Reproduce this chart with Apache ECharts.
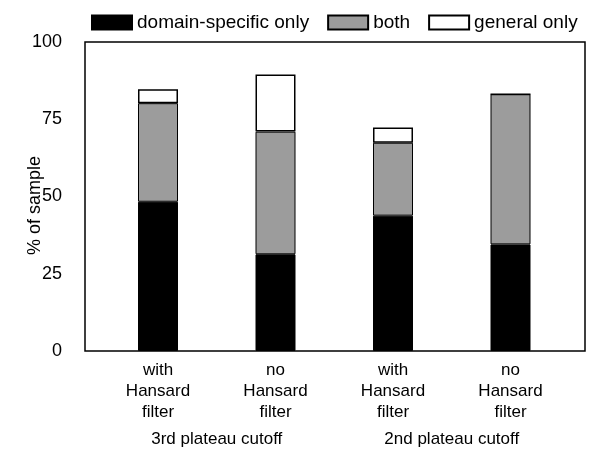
<!DOCTYPE html>
<html>
<head>
<meta charset="utf-8">
<script src="https://cdn.jsdelivr.net/npm/echarts@6/dist/echarts.min.js"></script>
<style>html,body{margin:0;padding:0;background:#fff;}#c{width:593px;height:451px;}</style>
</head>
<body>
<div id="c"></div>
<script>
var categories = ['with\nHansard\nfilter', 'no\nHansard\nfilter', 'with\nHansard\nfilter', 'no\nHansard\nfilter'];
var groups = ['3rd plateau cutoff', '2nd plateau cutoff'];
var domainOnly = [48.3, 31.3, 43.8, 34.5];
var both = [31.9, 39.7, 23.6, 48.6];
var generalOnly = [4.5, 18.5, 4.9, 0];
var yTicks = [0, 25, 50, 75, 100];

var FONT = 'Liberation Sans';
var chart = echarts.init(document.getElementById('c'));
var common = { type: 'bar', stack: 'all', barWidth: 40, xAxisIndex: 0, yAxisIndex: 0 };
chart.setOption({
  animation: false,
  textStyle: { fontFamily: FONT, color: '#000' },
  legend: {
    top: 8, left: 86, width: 507, itemWidth: 40, itemHeight: 14, itemGap: 18, icon: 'rect',
    textStyle: { fontFamily: FONT, fontSize: 19, color: '#000' },
    data: ['domain-specific only', 'both', 'general only']
  },
  grid: [
    { left: 99.25, right: 23.75, top: 42, bottom: 100 },
    { left: 85, right: 8, top: 42, bottom: 100, show: true, borderColor: '#000', borderWidth: 1.5, backgroundColor: 'transparent' }
  ],
  xAxis: [{
    type: 'category', gridIndex: 0, data: categories,
    axisLine: { show: false }, axisTick: { show: false },
    axisLabel: { margin: 9, fontFamily: FONT, fontSize: 17, color: '#000', lineHeight: 21, interval: 0 }
  }, {
    type: 'category', gridIndex: 0, data: groups, position: 'bottom', offset: 80,
    axisLine: { show: false }, axisTick: { show: false },
    axisLabel: { margin: 0, fontFamily: FONT, fontSize: 17, color: '#000', interval: 0 }
  }, {
    type: 'value', gridIndex: 1, show: false, min: 0, max: 1
  }],
  yAxis: [{
    type: 'value', gridIndex: 0, min: 0, max: 100, show: false
  }, {
    type: 'value', gridIndex: 1, min: 0, max: 100, interval: 25,
    name: '% of sample', nameLocation: 'middle', nameGap: 41, nameRotate: 90, nameMoveOverlap: false,
    nameTextStyle: { fontFamily: FONT, fontSize: 18, color: '#000', padding: [0, 18, 0, 0] },
    splitLine: { show: false },
    axisLine: { show: false },
    axisTick: { show: false },
    axisLabel: { margin: 23, fontFamily: FONT, fontSize: 18, color: '#000' }
  }],
  series: [
    Object.assign({}, common, { name: 'domain-specific only', data: domainOnly, itemStyle: { color: '#000', borderColor: '#000', borderWidth: 1 } }),
    Object.assign({}, common, { name: 'both', data: both, itemStyle: { color: '#9c9c9c', borderColor: '#000', borderWidth: 1 } }),
    Object.assign({}, common, { name: 'general only', data: generalOnly, itemStyle: { color: '#fff', borderColor: '#000', borderWidth: 1.5 } })
  ]
});
</script>
</body>
</html>
